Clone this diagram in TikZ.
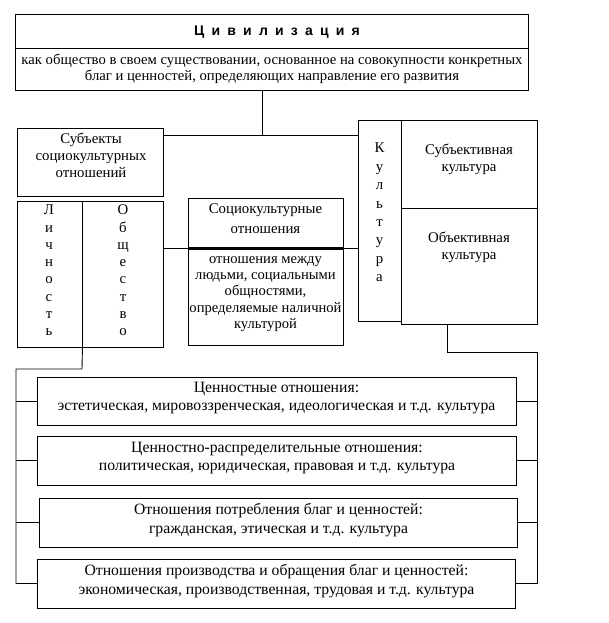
\documentclass[tikz,border=0pt]{standalone}
\usepackage{fontspec}
\setmainfont{Liberation Serif}
\newfontfamily\titlefont{Liberation Sans}
\begin{document}
\begin{tikzpicture}[x=1pt,y=-1pt,
  box/.style={draw, line width=0.9pt, inner sep=0pt},
  txt/.style={inner sep=0pt, align=center, font=\fontsize{14.8}{17}\selectfont},
  rtxt/.style={inner sep=0pt, align=center, font=\fontsize{15.7}{18.5}\selectfont},
  vtxt/.style={inner sep=0pt, align=center, font=\fontsize{14.8}{17.3}\selectfont},
  link/.style={line width=0.9pt}]
\useasboundingbox (0,0) rectangle (608,623);
\fill[white] (0,0) rectangle (608,623);

% top boxes
\node[box, minimum width=513pt, minimum height=34pt] (title) at (271.5,31) {};
\node[inner sep=0pt, font=\titlefont\bfseries\fontsize{14}{15}\selectfont] (titletext) at (277,32)
  {\spaceskip=7.2pt Ц и в и л и з а ц и я};
\node[box, minimum width=513pt, minimum height=42pt] (desc) at (271.5,69) {};
\node[inner sep=0pt, align=center, font=\fontsize{14.7}{16}\selectfont] (desctext) at (272,68.5)
  {как общество в своем существовании, основанное на совокупности конкретных\\
  благ и ценностей, определяющих направление его развития};

% subjects
\node[box, minimum width=146pt, minimum height=68pt] (subj) at (90,162) {};
\node[txt] (subjtext) at (91,155.5) {Субъекты\\социокультурных\\отношений};

\node[box, minimum width=65pt, minimum height=146pt] (lich) at (49.5,274) {};
\node[box, minimum width=81pt, minimum height=146pt] (obsh) at (122.5,274) {};
\node[vtxt] (lichtext) at (49,270.5) {Л\\и\\ч\\н\\о\\с\\т\\ь};
\node[vtxt] (obshtext) at (123,270.5) {О\\б\\щ\\е\\с\\т\\в\\о};

% socio relations
\node[box, minimum width=155pt, minimum height=50pt] (sochead) at (265.5,223) {};
\node[box, minimum width=155pt, minimum height=97pt] (socbody) at (265.5,296.5) {};
\draw[line width=2.2pt] (sochead.south west) -- (sochead.south east);
\node[inner sep=0pt, align=center, font=\fontsize{14.8}{19.5}\selectfont] (socheadtext) at (265.5,218.5)
  {Социокультурные\\отношения};
\node[inner sep=0pt, align=center, font=\fontsize{14.6}{16.4}\selectfont] (socbodytext) at (265.5,294)
  {отношения между\\людьми, социальными\\общностями,\\определяемые наличной\\культурой};

% culture
\node[box, minimum width=43pt, minimum height=201pt] (kult) at (379.5,220.5) {};
\node[inner sep=0pt, align=center, font=\fontsize{14.8}{18.4}\selectfont] (kulttext) at (379.5,212.5)
  {К\\у\\л\\ь\\т\\у\\р\\а};
\node[box, minimum width=136pt, minimum height=88pt] (subjc) at (469,164) {};
\node[txt] (subjctext) at (469,159) {Субъективная\\культура};
\node[box, minimum width=136pt, minimum height=116pt] (objc) at (469,266) {};
\node[txt] (objctext) at (469,247.5) {Объективная\\культура};

% relation boxes
\node[box, minimum width=479pt, minimum height=48pt] (r1) at (276.5,401) {};
\node[rtxt] (r1text) at (276.5,398) {Ценностные отношения:\\эстетическая, мировоззренческая, идеологическая и т.д. культура};
\node[box, minimum width=479pt, minimum height=49pt] (r2) at (277,460.5) {};
\node[rtxt] (r2text) at (277,458) {Ценностно-распределительные отношения:\\политическая, юридическая, правовая и т.д. культура};
\node[box, minimum width=478pt, minimum height=49pt] (r3) at (278.5,522.5) {};
\node[rtxt] (r3text) at (278.5,520) {Отношения потребления благ и ценностей:\\гражданская, этическая и т.д. культура};
\node[box, minimum width=478pt, minimum height=49pt] (r4) at (276.5,583.5) {};
\node[rtxt] (r4text) at (276.5,581) {Отношения производства и обращения благ и ценностей:\\экономическая, производственная, трудовая и т.д. культура};

% connectors
\coordinate (hub) at (262,135);
\draw[link] (hub |- desc.south) -- (hub);
\draw[link] (subj.east |- hub) -- (kult.west |- hub);
\draw[link] (obsh.east |- sochead.south) -- (sochead.south west);
\draw[link] (sochead.south east) -- (kult.west |- sochead.south);

\coordinate (lb) at (82,369);
\coordinate (lbl) at (16,369);
\draw[link] (lich.south east) -- (lb) -- (lbl) -- (lbl |- r4.west) -- (r4.west);
\draw[link] (lbl |- r1.west) -- (r1.west);
\draw[link] (lbl |- r2.west) -- (r2.west);
\draw[link] (lbl |- r3.west) -- (r3.west);

\coordinate (ob) at (447,352);
\coordinate (rb) at (537,352);
\draw[link] (ob |- objc.south) -- (ob) -- (rb) -- (rb |- r4.east) -- (r4.east);
\draw[link] (rb |- r1.east) -- (r1.east);
\draw[link] (rb |- r2.east) -- (r2.east);
\draw[link] (rb |- r3.east) -- (r3.east);
\end{tikzpicture}
\end{document}
